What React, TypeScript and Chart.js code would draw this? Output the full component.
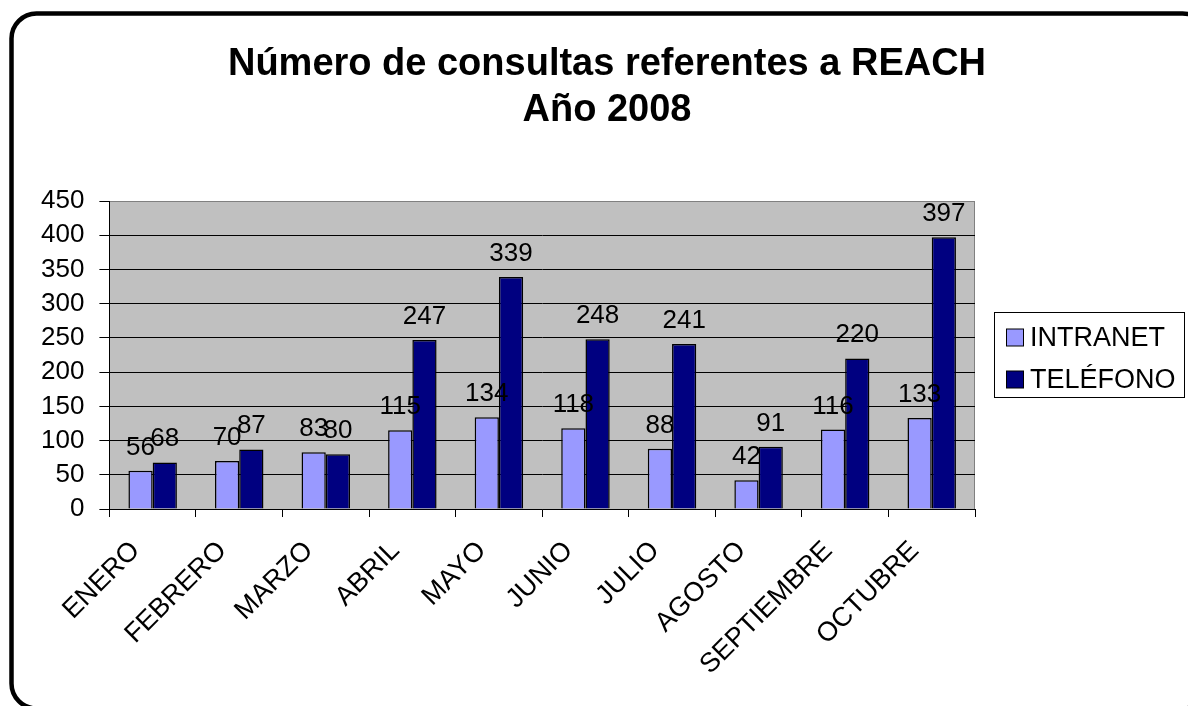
import React, { useEffect, useRef } from 'react';
import { Chart, registerables } from 'chart.js';

Chart.register(...registerables);

const MONTHS = ['ENERO', 'FEBRERO', 'MARZO', 'ABRIL', 'MAYO', 'JUNIO', 'JULIO', 'AGOSTO', 'SEPTIEMBRE', 'OCTUBRE'];
const INTRANET = [56, 70, 83, 115, 134, 118, 88, 42, 116, 133];
const TELEFONO = [68, 87, 80, 247, 339, 248, 241, 91, 220, 397];
const SERIES_NAMES = ['INTRANET', 'TELÉFONO'];
const SERIES_COLORS = ['#9999FF', '#000080'];
const TITLE_LINES = ['Número de consultas referentes a REACH', 'Año 2008'];
const Y_MIN = 0;
const Y_MAX = 450;
const Y_STEP = 50;

const FONT = '"Liberation Sans", Arial, Helvetica, sans-serif';
const W = 1188;
const H = 706;

const framePlugin = {
  id: 'frame',
  beforeDraw(chart: any) {
    const { ctx } = chart;
    ctx.save();
    ctx.fillStyle = '#ffffff';
    ctx.fillRect(0, 0, chart.width, chart.height);
    ctx.strokeStyle = '#000000';
    ctx.lineWidth = 4.5;
    ctx.beginPath();
    (ctx as any).roundRect(11.5, 13.5, 1196, 695, 25);
    ctx.stroke();
    const a = chart.chartArea;
    ctx.fillStyle = '#C0C0C0';
    ctx.fillRect(a.left, a.top, a.right - a.left, a.bottom - a.top);
    ctx.strokeStyle = '#808080';
    ctx.lineWidth = 1;
    ctx.beginPath();
    ctx.moveTo(a.left, a.top + 0.5);
    ctx.lineTo(a.right - 0.5, a.top + 0.5);
    ctx.lineTo(a.right - 0.5, a.bottom);
    ctx.stroke();
    ctx.restore();
  },
};

const valueLabelPlugin = {
  id: 'valueLabels',
  afterDatasetsDraw(chart: any) {
    const { ctx } = chart;
    ctx.save();
    ctx.font = `26px ${FONT}`;
    ctx.fillStyle = '#000000';
    ctx.textAlign = 'center';
    ctx.textBaseline = 'alphabetic';
    chart.data.datasets.forEach((ds: any, di: number) => {
      const meta = chart.getDatasetMeta(di);
      meta.data.forEach((el: any, i: number) => {
        ctx.fillText(String(ds.data[i]), el.x, el.y - 16);
      });
    });
    ctx.restore();
  },
};

const legendBoxPlugin = {
  id: 'legendBox',
  afterDraw(chart: any) {
    const { ctx } = chart;
    const a = chart.chartArea;
    const left = a.right + 19;
    const top = 312;
    const right = 1184;
    const bottom = 397;
    ctx.save();
    ctx.strokeStyle = '#000000';
    ctx.lineWidth = 1;
    ctx.strokeRect(left + 0.5, top + 0.5, right - left, bottom - top);
    ctx.font = `27px ${FONT}`;
    ctx.textAlign = 'left';
    ctx.textBaseline = 'alphabetic';
    chart.data.datasets.forEach((ds: any, i: number) => {
      const rowBase = 346 + i * 42;
      ctx.fillStyle = ds.backgroundColor;
      ctx.fillRect(left + 12.5, rowBase - 17, 17, 17);
      ctx.strokeStyle = '#000000';
      ctx.strokeRect(left + 12.5, rowBase - 17, 17, 17);
      ctx.fillStyle = '#000000';
      ctx.fillText(ds.label, left + 36, rowBase);
    });
    ctx.restore();
  },
};

export default function App() {
  const ref = useRef<HTMLCanvasElement | null>(null);

  useEffect(() => {
    if (!ref.current) return;
    const chart = new Chart(ref.current, {
      type: 'bar',
      data: {
        labels: MONTHS,
        datasets: [
          {
            label: SERIES_NAMES[0],
            data: INTRANET,
            backgroundColor: SERIES_COLORS[0],
            borderColor: '#000000',
            borderWidth: 1.5,
            categoryPercentage: 0.56,
            barPercentage: 1,
          },
          {
            label: SERIES_NAMES[1],
            data: TELEFONO,
            backgroundColor: SERIES_COLORS[1],
            borderColor: '#000000',
            borderWidth: 1.5,
            categoryPercentage: 0.56,
            barPercentage: 1,
          },
        ],
      },
      options: {
        animation: false,
        responsive: false,
        devicePixelRatio: 1,
        layout: { padding: { left: 26, right: 0, top: 0, bottom: 7 } },
        plugins: {
          legend: { display: false },
          tooltip: { enabled: false },
          title: {
            display: true,
            text: TITLE_LINES,
            color: '#000000',
            font: { family: FONT, size: 38, weight: 'bold', lineHeight: '46px' },
            padding: { top: 42, bottom: 67 },
          },
        },
        scales: {
          x: {
            grid: {
              display: true,
              drawOnChartArea: false,
              tickLength: 8,
              tickColor: '#000000',
              offset: true,
            },
            border: { display: true, color: '#000000', width: 1 },
            ticks: {
              autoSkip: false,
              maxRotation: 45,
              minRotation: 45,
              color: '#000000',
              padding: 18,
              labelOffset: -17,
              font: { family: FONT, size: 27 },
            },
          },
          y: {
            min: Y_MIN,
            max: Y_MAX,
            grid: {
              color: (c: any) => (c.tick && c.tick.value === Y_MAX ? '#808080' : '#000000'),
              tickColor: '#000000',
              tickLength: 10,
              lineWidth: 1,
            },
            border: { display: true, color: '#000000', width: 1 },
            ticks: {
              stepSize: Y_STEP,
              autoSkip: false,
              color: '#000000',
              padding: 15,
              font: { family: FONT, size: 26 },
            },
          },
          legendSpace: {
            type: 'linear',
            position: 'right',
            display: true,
            grid: { display: false },
            border: { display: false },
            ticks: { display: false },
            afterFit: (s: any) => {
              s.width = 213;
            },
          },
        },
      },
      plugins: [framePlugin, valueLabelPlugin, legendBoxPlugin],
    });
    return () => chart.destroy();
  }, []);

  return (
    <div style={{ position: 'absolute', left: 0, top: 0, width: W, height: H }}>
      <canvas ref={ref} width={W} height={H} style={{ display: 'block', width: W, height: H }} />
    </div>
  );
}
